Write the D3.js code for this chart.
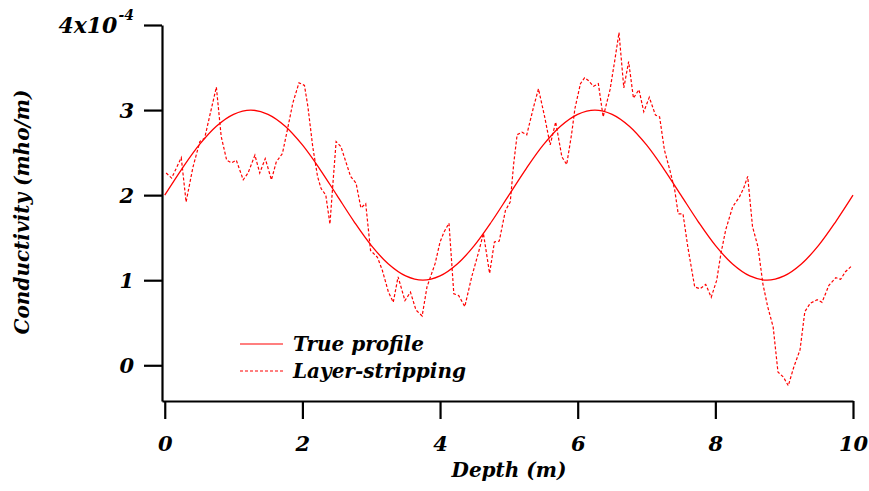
<!DOCTYPE html>
<html><head><meta charset="utf-8">
<script src="https://cdn.jsdelivr.net/npm/d3@7"></script>
<style>
body{margin:0;background:#fff}
text{font-family:"DejaVu Serif",serif;font-weight:bold;font-style:italic;fill:#000}
</style>
</head><body><svg id="c" width="869" height="491"></svg>
<script>
// True profile (conductivity in units of 1e-4 mho/m)
const trueDepth = [0,0.25,0.5,0.75,1,1.25,1.5,1.75,2,2.25,2.5,2.75,3,3.25,3.5,3.75,4,4.25,4.5,4.75,
  5,5.25,5.5,5.75,6,6.25,6.5,6.75,7,7.25,7.5,7.75,8,8.25,8.5,8.75,9,9.25,9.5,9.75,10];
const trueCond = [2.00,2.31,2.59,2.81,2.95,3.00,2.95,2.81,2.59,2.31,2.00,1.69,1.41,1.19,1.05,1.00,1.05,1.19,1.41,1.69,
  2.00,2.31,2.59,2.81,2.95,3.00,2.95,2.81,2.59,2.31,2.00,1.69,1.41,1.19,1.05,1.00,1.05,1.19,1.41,1.69,2.00];

// Layer-stripping reconstruction
const stripDepth = [0.02,0.10,0.24,0.31,0.41,0.51,0.58,0.65,0.75,0.82,0.90,0.97,1.04,1.14,1.21,1.31,1.38,1.46,1.55,1.62,
  1.71,1.79,1.86,1.95,2.03,2.08,2.15,2.22,2.27,2.34,2.40,2.44,2.49,2.56,2.70,2.78,2.85,2.92,2.99,3.09,
  3.16,3.25,3.32,3.39,3.49,3.57,3.65,3.74,3.81,3.93,4.00,4.06,4.13,4.20,4.27,4.36,4.46,4.56,4.63,4.72,
  4.79,4.86,4.95,5.02,5.07,5.12,5.19,5.26,5.36,5.43,5.52,5.60,5.68,5.77,5.84,5.91,5.96,6.04,6.10,6.15,
  6.23,6.30,6.37,6.47,6.54,6.60,6.67,6.74,6.81,6.89,6.96,7.04,7.13,7.19,7.26,7.34,7.41,7.46,7.53,7.60,
  7.70,7.78,7.86,7.94,8.02,8.08,8.15,8.25,8.35,8.41,8.47,8.54,8.62,8.69,8.76,8.84,8.91,8.99,9.06,9.14,
  9.23,9.30,9.38,9.48,9.55,9.65,9.75,9.82,9.89,9.97];
const stripCond = [2.26,2.20,2.44,1.92,2.33,2.63,2.67,2.92,3.27,2.69,2.41,2.38,2.41,2.18,2.26,2.47,2.26,2.43,2.18,2.39,
  2.49,2.80,3.08,3.32,3.29,3.04,2.57,2.22,2.08,2.00,1.66,2.10,2.63,2.57,2.22,2.14,1.85,1.90,1.35,1.27,
  1.12,0.86,0.74,1.04,0.76,0.86,0.65,0.58,0.92,1.20,1.45,1.57,1.67,0.84,0.82,0.69,1.04,1.33,1.55,1.08,
  1.45,1.46,1.82,1.92,2.37,2.71,2.74,2.71,3.04,3.25,2.92,2.59,2.86,2.45,2.36,2.71,3.02,3.31,3.38,3.35,
  3.28,3.31,2.92,3.24,3.59,3.91,3.26,3.57,3.14,3.24,2.98,3.15,2.94,2.92,2.53,2.29,2.06,1.78,1.78,1.39,
  0.92,0.90,0.95,0.80,1.00,1.31,1.59,1.86,1.98,2.08,2.22,1.63,1.39,0.96,0.69,0.45,-0.08,-0.14,-0.24,-0.02,
  0.18,0.63,0.73,0.77,0.74,0.94,1.03,1.01,1.10,1.16];

const xTicks = [0,2,4,6,8,10];
const yTicks = [0,1,2,3,4];
const seriesNames = ["True profile","Layer-stripping"];
const xTitle = "Depth (m)";
const yTitle = "Conductivity (mho/m)";

const svg = d3.select("#c");
const x = d3.scaleLinear().domain([-0.04,10]).range([162,853]);
const y = d3.scaleLinear().domain([-0.42,4]).range([401,25]);
const red = "#ff0000";

// axes
const xa = svg.append("g").attr("transform","translate(0,401)")
  .call(d3.axisBottom(x).tickValues(xTicks).tickSize(18).tickSizeOuter(0).tickFormat(d3.format("d")));
const ya = svg.append("g").attr("transform","translate(162,0)")
  .call(d3.axisLeft(y).tickValues(yTicks).tickSize(18).tickSizeOuter(0).tickPadding(10)
    .tickFormat(d => d === 4 ? "" : d3.format("d")(d)));
[xa,ya].forEach(a=>{
  a.selectAll("path,line").attr("stroke","#000").attr("stroke-width",2.2);
  a.selectAll("text").style("font-family",'"DejaVu Serif",serif').style("font-weight","bold")
   .style("font-style","italic").style("font-size","21px").attr("fill","#000");
});
xa.selectAll("text").attr("y",35).attr("dy","0.71em");
ya.selectAll("text").attr("dy","0.36em");
// top label 4x10^-4
const topLabel = ya.selectAll(".tick").filter(d=>d===4).select("text");
topLabel.text(null);
topLabel.append("tspan").style("font-size","22px").text("4x10");
topLabel.append("tspan").attr("dy",-13).attr("dx",1).style("font-size","14px").text("-4");

// titles
svg.append("text").attr("x",509).attr("y",477).attr("text-anchor","middle")
  .style("font-size","20px").text(xTitle);
svg.append("text").attr("transform","translate(22,212) rotate(-90)").attr("dy","0.35em")
  .attr("text-anchor","middle").style("font-size","20px").text(yTitle);

// lines
const trueData = trueDepth.map((d,i)=>[d,trueCond[i]]);
const stripData = stripDepth.map((d,i)=>[d,stripCond[i]]);
svg.append("path").datum(trueData)
  .attr("d",d3.line().x(d=>x(d[0])).y(d=>y(d[1])).curve(d3.curveCatmullRom))
  .attr("fill","none").attr("stroke",red).attr("stroke-width",1.3);
svg.append("path").datum(stripData)
  .attr("d",d3.line().x(d=>x(d[0])).y(d=>y(d[1])))
  .attr("fill","none").attr("stroke",red).attr("stroke-width",1.2).attr("stroke-dasharray","3,2");

// legend
const lg = svg.append("g");
[[344,null],[371,"3,2"]].forEach((s,i)=>{
  lg.append("line").attr("x1",240).attr("x2",283).attr("y1",s[0]).attr("y2",s[0])
    .attr("stroke",red).attr("stroke-width",1.2).attr("stroke-dasharray",s[1]);
  lg.append("text").attr("x",293).attr("y",s[0]+7).style("font-size","20px").text(seriesNames[i]);
});
</script></body></html>
